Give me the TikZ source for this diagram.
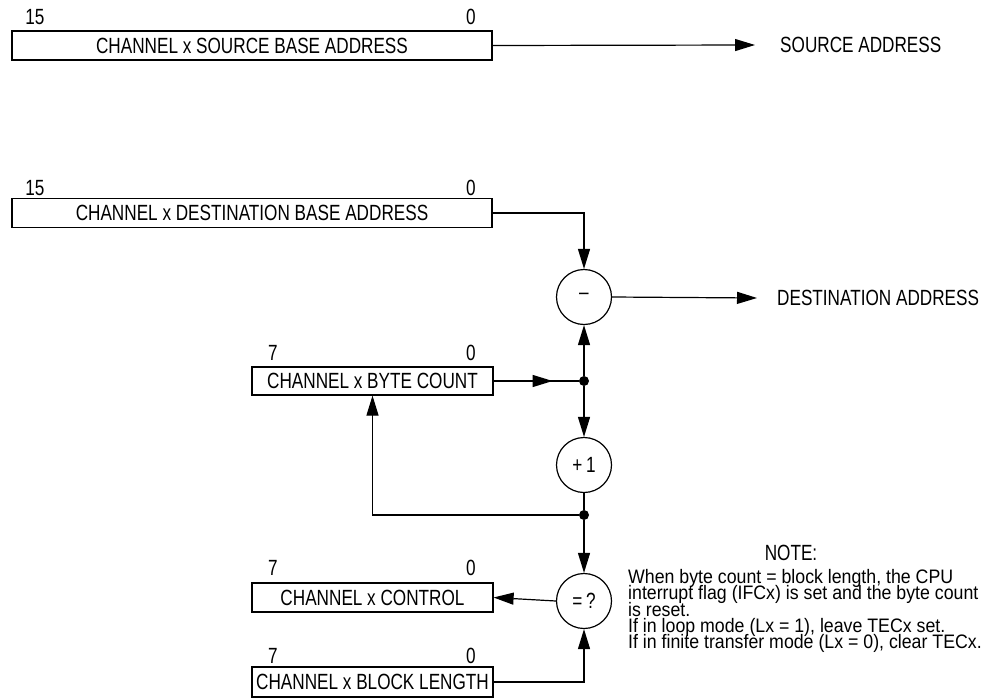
\documentclass[tikz,border=0pt]{standalone}
\usepackage{fontspec}
\setmainfont{Liberation Sans}[FakeStretch=0.78]
\newfontfamily\notefont{Liberation Sans}[FakeStretch=0.91]
\newcommand\mytightlines{\lineskiplimit=-30pt\relax\lineskip=0pt\relax}
\usetikzlibrary{arrows.meta,decorations.markings}
\begin{document}
\begin{tikzpicture}[x=1pt,y=-1pt,
  every node/.style={font=\fontsize{22}{26}\selectfont},
  reg/.style={draw,line width=1.2pt,rectangle,inner sep=0pt,minimum height=29pt},
  wide/.style={reg,minimum width=480pt},
  narrow/.style={reg,minimum width=241pt},
  op/.style={draw,line width=1.2pt,circle,inner sep=0pt,minimum size=55pt},
  junc/.style={circle,fill,inner sep=0pt,minimum size=10pt},
  bit/.style={anchor=base,inner sep=0pt},
  conn/.style={line width=1.2pt},
  tip/.style={conn,-{Triangle[length=20pt,width=12pt]}},
  midtip/.style={conn,postaction={decorate},decoration={markings,mark=at position #1 with {\arrow{Triangle[length=20pt,width=12pt]}}}}
]
\useasboundingbox (0,0) rectangle (1000,698);

% source register
\node[wide] (src) at (252,45.5) {CHANNEL x SOURCE BASE ADDRESS};
\node[bit] (srchi) at (35,25) {15};
\node[bit] (srclo) at (471,25) {0};
\node[anchor=west,inner xsep=0pt,inner ysep=0pt] (srcaddr) at (755,45) {\hspace*{25pt}SOURCE ADDRESS};
\draw[tip] (src.east) -- (srcaddr.west);

% destination register
\node[wide] (dst) at (252,213) {CHANNEL x DESTINATION BASE ADDRESS};
\node[bit] (dsthi) at (35,195) {15};
\node[bit] (dstlo) at (471,195) {0};

\node[op] (minus) at (584,297) {\raisebox{1pt}{--}};
\node[anchor=west,inner xsep=0pt,inner ysep=0pt] (dstaddr) at (757,298) {\hspace*{20pt}DESTINATION ADDRESS};
\draw[tip] (dst.east) -| (minus.north);
\draw[tip] (minus.east) -- (dstaddr.west);

% byte count
\node[narrow,minimum height=28pt] (bc) at (372.5,381) {CHANNEL x BYTE COUNT};
\node[bit] (bchi) at (273,360) {7};
\node[bit] (bclo) at (471,360) {0};
\node[junc] (j1) at (584,381) {};
\draw[midtip=59pt] (bc.east) -- (j1);
\draw[tip] (j1) -- (minus.south);

\node[op] (plus) at (584,465) {+\,1};
\draw[tip] (j1) -- (plus.north);
\node[junc] (j2) at (584,515) {};
\draw[conn] (plus.south) -- (j2);
\draw[tip] (j2) -| (bc.south);

% compare
\node[op] (eq) at (584,601) {=\,?};
\draw[tip] (j2) -- (eq.north);

\node[narrow] (ctl) at (372.5,597.5) {CHANNEL x CONTROL};
\node[bit] (ctlhi) at (273,575) {7};
\node[bit] (ctllo) at (471,575) {0};
\draw[tip] (eq.west) -- (ctl.east);

\node[narrow,minimum height=30pt] (blk) at (372.5,682) {CHANNEL x BLOCK LENGTH};
\node[bit] (blkhi) at (273,663) {7};
\node[bit] (blklo) at (471,663) {0};
\draw[tip] (blk.east) -| (eq.south);

% note
\node[bit] (notehead) at (791,560) {NOTE:};
\node[anchor=north west,inner sep=0pt,align=left,font=\notefont\fontsize{19.5}{16.4}\selectfont\mytightlines] (note) at (628,569)
  {When byte count = block length, the CPU\\
   interrupt flag (IFCx) is set and the byte count\\
   is reset.\\
   If in loop mode (Lx = 1), leave TECx set.\\
   If in finite transfer mode (Lx = 0), clear TECx.};
\end{tikzpicture}
\end{document}
